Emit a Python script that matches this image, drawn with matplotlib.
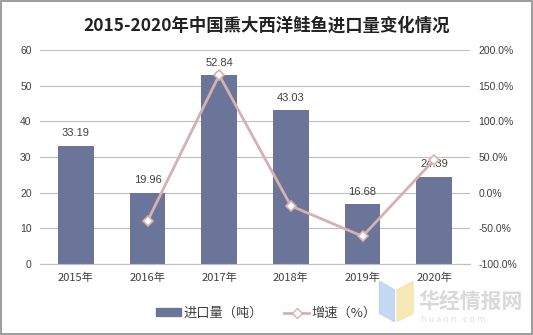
import numpy as np
import matplotlib.pyplot as plt
from matplotlib.ticker import FuncFormatter
from matplotlib.patches import Rectangle, Polygon

plt.rcParams['font.family'] = ['Noto Sans CJK SC', 'DejaVu Sans']

# data
years = ["2015年", "2016年", "2017年", "2018年", "2019年", "2020年"]
imports = [33.19, 19.96, 52.84, 43.03, 16.68, 24.39]
growth = [None, -39.9, 164.7, -18.6, -61.2, 46.2]

bar_color = "#6b7499"
line_color = "#d6b1b0"
grid_color = "#bfbfbf"
text_color = "#404040"

fig = plt.figure(figsize=(5.33, 3.35), dpi=100)
ax = fig.add_axes([0.075, 0.212, 0.807, 0.639])
ax2 = ax.twinx()

x = np.arange(len(years))
ax.bar(x, imports, width=0.5, color=bar_color, zorder=2)
for xi, v in zip(x, imports):
    ax.text(xi, v + 2.2, "%.2f" % v, ha="center", va="bottom", fontsize=8, color=text_color,
            family="Liberation Sans", zorder=5)

gx = [xi for xi, g in zip(x, growth) if g is not None]
gy = [g for g in growth if g is not None]
ax2.plot(gx, gy, color=line_color, lw=2, marker="D", ms=5, mfc="white", mec=line_color, mew=1.2, zorder=4)

ax.set_xlim(-0.5, len(years) - 0.5)
ax.set_ylim(0, 60)
ax.set_yticks(range(0, 61, 10))
ax2.set_ylim(-100, 200)
ax2.set_yticks(range(-100, 201, 50))
ax2.yaxis.set_major_formatter(FuncFormatter(lambda v, p: "%.1f%%" % v))

ax.set_xticks(x)
ax.set_xticklabels(years)
ax.grid(axis="y", color=grid_color, lw=0.8, zorder=0)
ax.set_axisbelow(True)

for a in (ax, ax2):
    for s in ("top", "right", "left"):
        a.spines[s].set_visible(False)
    a.spines["bottom"].set_color(grid_color)
    a.tick_params(length=0, labelsize=7.5, colors=text_color, pad=6)
ax2.spines["bottom"].set_visible(False)
for lab in ax.get_yticklabels() + ax2.get_yticklabels():
    lab.set_family("Liberation Sans")
for lab in ax.get_xticklabels():
    lab.set_fontsize(8)

fig.text(0.5, 0.925, "2015-2020年中国熏大西洋鲑鱼进口量变化情况", ha="center", va="center",
         fontsize=12.5, fontweight="bold", color="#222222")

# legend
h1 = Rectangle((0, 0), 1, 1, color=bar_color)
h2, = ax2.plot([], [], color=line_color, lw=2, marker="D", ms=5, mfc="white", mec=line_color)
fig.legend([h1, h2], ["进口量（吨）", "增速（%）"], loc="center", bbox_to_anchor=(0.5, 0.065),
           ncol=2, frameon=False, fontsize=9.5, handlelength=1.9, handleheight=0.5,
           handletextpad=0.2, columnspacing=1.6, labelcolor=text_color)

# watermark
fig.patches.append(Polygon([(0.712, 0.16), (0.74, 0.135), (0.74, 0.04), (0.712, 0.065)],
                           closed=True, transform=fig.transFigure, color="#b7d0f0", alpha=0.8))
fig.patches.append(Polygon([(0.745, 0.135), (0.775, 0.16), (0.775, 0.065), (0.745, 0.04)],
                           closed=True, transform=fig.transFigure, color="#f5e3a6", alpha=0.8))
fig.text(0.785, 0.10, "华经情报网", fontsize=15, color="#d0d0d0", alpha=0.8, fontweight="bold",
         va="center")
fig.text(0.79, 0.045, "h u a o n . c o m", fontsize=6.5, color="#d8d8d8", alpha=0.8, va="center")

# figure border
fig.patches.append(Rectangle((0.002, 0.003), 0.996, 0.994, transform=fig.transFigure,
                             fill=False, edgecolor="#8c8c8c", lw=1.2))

fig.savefig("out.png", dpi=100)
